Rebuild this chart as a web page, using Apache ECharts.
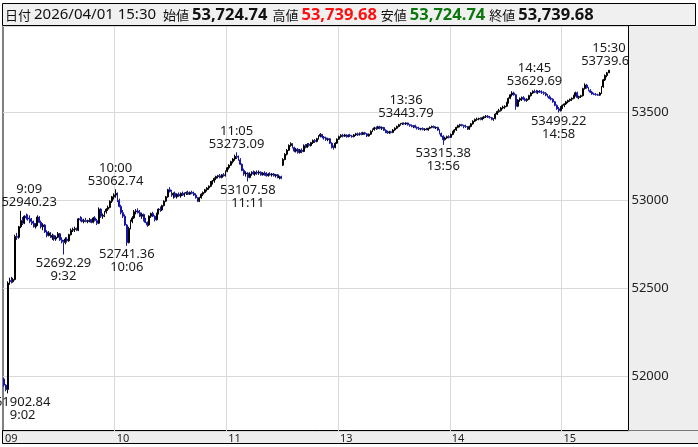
<!DOCTYPE html>
<html><head><meta charset="utf-8">
<script src="https://cdn.jsdelivr.net/npm/echarts@6/dist/echarts.min.js"></script>
<style>html,body{margin:0;padding:0;background:#fff}#c{width:698px;height:447px}</style>
</head><body><div id="c"></div>
<script>
const tradeDate = '2026/04/01';
// trading sessions (1-minute bars)
const sessions = [['9:00', '11:29'], ['12:30', '15:24'], ['15:30', '15:30']];
const padSlots = 10;
// [open, close, low, high]
const ohlc = [
[51985,51950,51940,51992],[51950,51925,51915,51955],[51925,52530,51902.84,52540],[52530,52545,52520,52560],[52545,52538,52528,52565],
[52538,52550,52532,52560],[52550,52795,52545,52805],[52795,52790,52775,52815],[52790,52850,52782,52855],[52850,52885,52842,52940.23],
[52885,52870,52860,52905],[52870,52910,52865,52915],[52910,52900,52890,52925],[52900,52895,52885,52920],[52895,52880,52870,52915],
[52880,52870,52860,52900],[52870,52850,52845,52885],[52850,52860,52840,52870],[52860,52905,52855,52915],[52905,52875,52870,52910],
[52875,52850,52840,52885],[52850,52860,52830,52870],[52860,52820,52815,52865],[52820,52800,52790,52830],[52800,52815,52795,52825],
[52815,52790,52785,52820],[52790,52800,52775,52810],[52800,52780,52770,52805],[52780,52790,52770,52800],[52790,52810,52785,52820],
[52810,52775,52770,52815],[52775,52765,52755,52790],[52765,52760,52692.29,52775],[52760,52780,52750,52790],[52780,52770,52760,52790],
[52770,52805,52765,52810],[52805,52830,52800,52840],[52830,52835,52820,52845],[52835,52840,52820,52850],[52840,52830,52825,52845],
[52830,52895,52825,52900],[52895,52890,52880,52910],[52890,52880,52875,52905],[52880,52885,52870,52895],[52885,52880,52875,52900],
[52880,52885,52870,52890],[52885,52890,52875,52900],[52890,52875,52870,52895],[52875,52900,52870,52905],[52900,52885,52880,52910],
[52885,52870,52860,52895],[52870,52950,52865,52960],[52950,52910,52900,52955],[52910,52915,52895,52925],[52915,52935,52905,52940],
[52935,52950,52925,52955],[52950,52960,52940,52970],[52960,52995,52955,53000],[52995,53020,52985,53025],[53020,53030,53005,53040],
[53030,53040,53015,53062.74],[53040,53000,52990,53045],[53000,52965,52960,53010],[52965,52930,52920,52975],[52930,52910,52900,52945],
[52910,52860,52855,52920],[52860,52760,52741.36,52865],[52760,52840,52755,52850],[52840,52880,52835,52890],[52880,52900,52870,52910],
[52900,52935,52895,52945],[52935,52940,52920,52950],[52940,52930,52925,52955],[52930,52910,52905,52945],[52910,52920,52895,52930],
[52920,52885,52880,52925],[52885,52875,52870,52900],[52875,52860,52850,52880],[52860,52910,52855,52915],[52910,52925,52900,52930],
[52925,52910,52905,52935],[52910,52890,52880,52915],[52890,52925,52885,52930],[52925,52950,52920,52955],[52950,52945,52935,52965],
[52945,52970,52940,52975],[52970,52995,52965,53000],[52995,53020,52990,53025],[53020,53060,53015,53065],[53060,53050,53045,53075],
[53050,53030,53020,53060],[53030,53040,53010,53045],[53040,53020,53015,53050],[53020,53035,53010,53040],[53035,53025,53020,53045],
[53025,53040,53015,53045],[53040,53030,53025,53050],[53030,53040,53020,53045],[53040,53045,53030,53050],[53045,53035,53030,53055],
[53035,53045,53030,53050],[53045,53040,53035,53055],[53040,53030,53025,53050],[53030,53015,53010,53040],[53015,52995,52990,53020],
[52995,53015,52990,53020],[53015,53035,53010,53040],[53035,53045,53025,53050],[53045,53060,53040,53065],[53060,53070,53050,53075],
[53070,53080,53060,53085],[53080,53105,53075,53110],[53105,53110,53090,53115],[53110,53125,53100,53130],[53125,53135,53115,53140],
[53135,53140,53125,53145],[53140,53130,53125,53150],[53130,53145,53125,53150],[53145,53140,53135,53155],[53140,53165,53135,53170],
[53165,53185,53160,53190],[53185,53200,53175,53205],[53200,53220,53195,53225],[53220,53235,53210,53240],[53235,53250,53225,53260],
[53250,53245,53235,53273.09],[53245,53230,53225,53255],[53230,53205,53200,53240],[53205,53170,53165,53210],[53170,53150,53140,53180],
[53150,53155,53135,53165],[53155,53130,53107.58,53160],[53130,53150,53125,53160],[53150,53160,53140,53165],[53160,53150,53145,53170],
[53150,53160,53140,53165],[53160,53155,53145,53170],[53155,53160,53145,53170],[53160,53145,53140,53165],[53145,53155,53140,53160],
[53155,53150,53140,53165],[53150,53140,53135,53160],[53140,53150,53135,53155],[53150,53145,53140,53160],[53145,53150,53135,53155],
[53150,53140,53135,53155],[53140,53145,53130,53150],[53145,53130,53125,53150],[53130,53135,53120,53140],[53135,53125,53120,53140],
[53200,53232,53195,53240],[53232,53262,53228,53268],[53262,53285,53255,53292],[53285,53312,53280,53318],[53312,53322,53305,53330],
[53322,53300,53295,53326],[53300,53280,53274,53305],[53280,53290,53272,53298],[53290,53272,53266,53297],[53272,53285,53266,53292],
[53285,53278,53268,53295],[53278,53310,53274,53318],[53310,53302,53295,53320],[53302,53318,53298,53325],[53318,53312,53305,53326],
[53312,53328,53306,53332],[53328,53340,53320,53346],[53340,53335,53326,53348],[53335,53350,53330,53355],[53350,53365,53345,53370],
[53365,53375,53358,53382],[53375,53360,53352,53378],[53360,53355,53345,53366],[53355,53345,53338,53362],[53345,53350,53336,53356],
[53350,53325,53320,53354],[53325,53305,53295,53330],[53305,53300,53288,53312],[53300,53325,53296,53330],[53325,53348,53320,53352],
[53348,53362,53344,53368],[53362,53370,53356,53376],[53370,53365,53358,53378],[53365,53372,53360,53378],[53372,53362,53356,53376],
[53362,53370,53358,53375],[53370,53366,53360,53378],[53366,53362,53356,53372],[53362,53372,53358,53377],[53372,53378,53366,53384],
[53378,53372,53366,53385],[53372,53380,53368,53386],[53380,53375,53370,53388],[53375,53384,53372,53390],[53384,53378,53372,53390],
[53378,53366,53360,53382],[53366,53376,53362,53380],[53376,53392,53372,53398],[53392,53402,53388,53408],[53402,53412,53396,53418],
[53412,53408,53400,53420],[53408,53418,53404,53424],[53418,53410,53404,53424],[53410,53414,53400,53420],[53414,53398,53394,53418],
[53398,53388,53382,53404],[53388,53384,53378,53396],[53384,53390,53378,53395],[53390,53386,53380,53395],[53386,53400,53382,53405],
[53400,53410,53395,53415],[53410,53420,53405,53425],[53420,53430,53415,53435],[53430,53435,53425,53440],[53435,53438,53428,53442],
[53438,53434,53430,53443],[53434,53440,53428,53443.79],[53440,53430,53425,53442],[53430,53425,53418,53435],[53425,53420,53415,53432],
[53420,53425,53410,53428],[53425,53415,53410,53430],[53415,53410,53402,53420],[53410,53405,53400,53418],[53405,53408,53398,53412],
[53408,53402,53398,53415],[53402,53405,53395,53410],[53405,53400,53398,53412],[53400,53410,53396,53412],[53410,53415,53405,53420],
[53415,53420,53410,53425],[53420,53412,53410,53425],[53412,53415,53405,53420],[53415,53400,53395,53418],[53400,53380,53375,53405],
[53380,53365,53360,53385],[53365,53345,53315.38,53370],[53345,53355,53340,53362],[53355,53362,53350,53368],[53362,53358,53352,53370],
[53358,53375,53355,53380],[53375,53390,53370,53395],[53390,53400,53385,53405],[53400,53415,53395,53418],[53415,53425,53410,53430],
[53425,53430,53415,53435],[53430,53425,53420,53435],[53425,53420,53410,53430],[53420,53418,53412,53430],[53418,53405,53400,53422],
[53405,53420,53400,53425],[53420,53435,53415,53440],[53435,53450,53430,53455],[53450,53460,53445,53465],[53460,53462,53452,53470],
[53462,53465,53455,53470],[53465,53460,53455,53472],[53460,53470,53455,53475],[53470,53475,53462,53480],[53475,53478,53468,53485],
[53478,53472,53468,53485],[53472,53470,53465,53480],[53470,53460,53455,53474],[53460,53465,53452,53468],[53465,53490,53460,53495],
[53490,53505,53485,53510],[53505,53510,53498,53520],[53510,53525,53505,53530],[53525,53530,53518,53538],[53530,53535,53520,53540],
[53535,53555,53530,53560],[53555,53580,53550,53585],[53580,53600,53575,53605],[53600,53610,53590,53620],[53610,53600,53595,53618],
[53600,53535,53515,53605],[53535,53570,53530,53575],[53570,53578,53560,53585],[53578,53585,53565,53590],[53585,53575,53570,53592],
[53575,53568,53562,53585],[53568,53575,53560,53580],[53575,53595,53570,53600],[53595,53610,53590,53615],[53610,53620,53605,53625],
[53620,53618,53610,53629.69],[53618,53615,53608,53628],[53615,53620,53605,53625],[53620,53615,53610,53627],[53615,53612,53605,53625],
[53612,53608,53600,53620],[53608,53598,53592,53615],[53598,53590,53585,53605],[53590,53580,53575,53598],[53580,53575,53568,53590],
[53575,53560,53555,53580],[53560,53540,53535,53565],[53540,53520,53515,53545],[53520,53510,53499.22,53530],[53510,53530,53505,53535],
[53530,53540,53520,53545],[53540,53548,53530,53552],[53548,53560,53542,53565],[53560,53568,53552,53572],[53568,53575,53560,53578],
[53575,53580,53565,53585],[53580,53595,53575,53600],[53595,53612,53590,53618],[53612,53585,53580,53618],[53585,53590,53575,53595],
[53590,53595,53582,53600],[53595,53635,53590,53640],[53635,53655,53630,53665],[53655,53640,53635,53662],[53640,53625,53620,53645],
[53625,53615,53610,53632],[53615,53605,53600,53622],[53605,53602,53598,53612],[53602,53600,53595,53610],[53600,53598,53594,53606],
[53598,53610,53594,53615],[53610,53645,53605,53650],[53645,53685,53640,53690],[53685,53710,53678,53715],[53710,53724.74,53700,53730],
[53724.74,53739.68,53724.74,53739.68]
];
// annotated highs / lows
const markTimes  = ['9:02', '9:09', '9:32', '10:00', '10:06', '11:05', '11:11', '13:36', '13:56', '14:45', '14:58', '15:30'];
const markValues = [51902.84, 52940.23, 52692.29, 53062.74, 52741.36, 53273.09, 53107.58, 53443.79, 53315.38, 53629.69, 53499.22, 53739.68];
const markSides  = ['low', 'high', 'low', 'high', 'low', 'high', 'low', 'high', 'low', 'high', 'low', 'high'];
const yMin = 51689, yMax = 53991;

// ---- build categories from sessions ----
function toMin(s) { const p = s.split(':'); return +p[0] * 60 + +p[1]; }
function toStr(m) { return Math.floor(m / 60) + ':' + String(m % 60).padStart(2, '0'); }
const times = [];
sessions.forEach(function (s) { for (let m = toMin(s[0]); m <= toMin(s[1]); m++) times.push(toStr(m)); });
const categories = times.slice();
for (let k = 0; k < padSlots; k++) categories.push('');

const labelShift = { '9:02': 15, '9:09': 8.5 };
const FONT = '"Noto Sans", "Noto Sans CJK JP", sans-serif';
const UP = '#000000', DOWN = '#1414a8';

const last = ohlc[ohlc.length - 1];
function fmt(v) { return v.toLocaleString('en-US', { minimumFractionDigits: 2, maximumFractionDigits: 2 }); }

const markData = markTimes.map(function (t, k) {
  const v = markValues[k], hi = markSides[k] === 'high';
  return {
    coord: [t, v],
    label: {
      position: hi ? 'top' : 'bottom',
      formatter: hi ? (t + '\n' + v.toFixed(2)) : (v.toFixed(2) + '\n' + t),
      offset: [labelShift[t] || 0, 0]
    }
  };
});

const chart = echarts.init(document.getElementById('c'), null, { renderer: 'canvas' });
chart.setOption({
  animation: false,
  backgroundColor: '#ffffff',
  title: {
    left: 5, top: 4, padding: 0, z: 20,
    text: '{l|日付}{d|' + tradeDate + ' ' + times[times.length - 1] + '}{l|始値}{n|' + fmt(last[0]) + '}{l|高値}{h|' + fmt(last[3]) +
          '}{l|安値}{w|' + fmt(last[2]) + '}{l|終値}{n|' + fmt(last[1]) + '}',
    textStyle: {
      lineHeight: 22, fontWeight: 'normal',
      rich: {
        l: { fontSize: 13, fontWeight: 'normal', fontFamily: '"Noto Sans CJK JP"', color: '#111', padding: [0, 3, 0, 0] },
        d: { fontSize: 15, fontWeight: 'normal', fontFamily: FONT, color: '#111', padding: [0, 7, 0, 0] },
        n: { fontSize: 16.5, fontWeight: 'bold', fontFamily: FONT, color: '#111', padding: [0, 5, 0, 0] },
        h: { fontSize: 16.5, fontWeight: 'bold', fontFamily: FONT, color: '#ff1010', padding: [0, 4, 0, 0] },
        w: { fontSize: 16.5, fontWeight: 'bold', fontFamily: FONT, color: '#0a780a', padding: [0, 4, 0, 0] }
      }
    }
  },
  graphic: [
    { type: 'rect', z: -1, shape: { x: 2.5, y: 3.5, width: 693, height: 22 }, style: { fill: '#f0f0f0', stroke: '#000', lineWidth: 1 } },
    { type: 'rect', z: -1, shape: { x: 2.5, y: 430.5, width: 697, height: 13 }, style: { fill: '#eeeeee', stroke: '#000', lineWidth: 1 } },
    { type: 'rect', z: 10, shape: { x: 628.5, y: 26, width: 70, height: 404.5 }, style: { fill: '#eeeeee' } },
    { type: 'line', z: 11, shape: { x1: 628.5, y1: 25.5, x2: 628.5, y2: 430.5 }, style: { stroke: '#000', lineWidth: 1 } }
  ],
  grid: { left: 3, right: 69.5, top: 26, bottom: 16, show: true, borderColor: '#000', borderWidth: 1, backgroundColor: 'transparent', outerBoundsMode: 'none' },
  xAxis: {
    type: 'category', data: categories, boundaryGap: true,
    axisLine: { show: false }, axisTick: { show: false },
    axisLabel: {
      interval: function (i, v) { return /:00$/.test(v); },
      formatter: function (v) { return v.split(':')[0].padStart(2, '0'); },
      align: 'left', padding: [0, 0, 0, 1], margin: 2,
      fontSize: 11, fontFamily: FONT, color: '#222'
    },
    splitLine: { show: true, interval: function (i, v) { return /:00$/.test(v) && i > 0; }, lineStyle: { color: '#d9d9d9', width: 1 } }
  },
  yAxis: [
    { type: 'value', position: 'left', min: yMin, max: yMax, scale: true,
      axisLine: { show: false }, axisTick: { show: false }, axisLabel: { show: false },
      splitLine: { show: true, lineStyle: { color: '#d9d9d9', width: 1 } } },
    { type: 'value', position: 'right', min: yMin, max: yMax, scale: true, z: 20,
      axisLine: { show: false }, axisTick: { show: false }, splitLine: { show: false },
      axisLabel: { showMinLabel: false, showMaxLabel: false, margin: 3, fontSize: 13, fontFamily: FONT, color: '#222',
        formatter: function (v) { return String(v); } } }
  ],
  series: [{
    type: 'candlestick',
    yAxisIndex: 0,
    data: ohlc,
    barWidth: 1.4,
    itemStyle: { color: UP, color0: DOWN, borderColor: UP, borderColor0: DOWN, borderColorDoji: UP, borderWidth: 1 },
    markPoint: {
      symbol: 'circle', symbolSize: 0, silent: true,
      itemStyle: { color: 'rgba(0,0,0,0)' },
      label: { show: true, distance: 2, fontSize: 13, lineHeight: 13, fontFamily: FONT, color: '#1a1a1a' },
      data: markData
    }
  }]
});
</script></body></html>
